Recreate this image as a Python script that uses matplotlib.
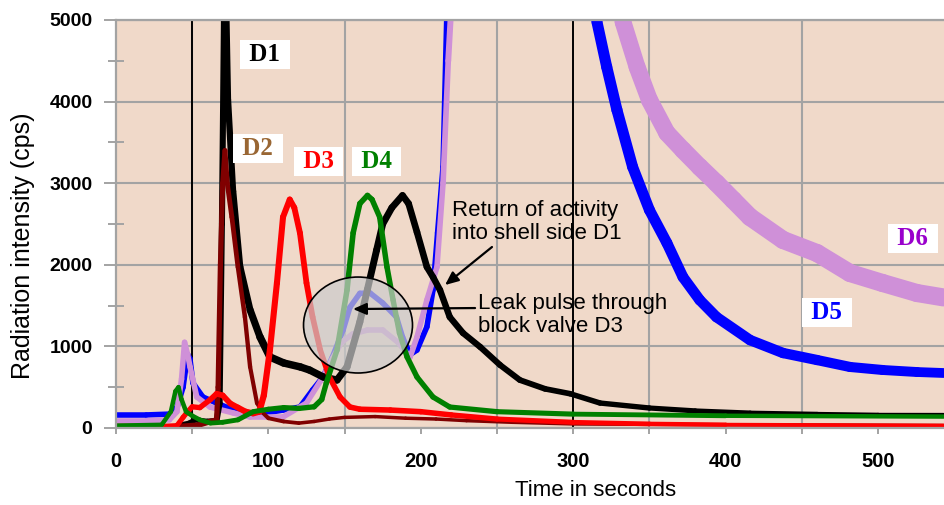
import numpy as np
import matplotlib
matplotlib.use('Agg')
import matplotlib.pyplot as plt
from matplotlib.collections import LineCollection
from matplotlib.patches import Ellipse
from matplotlib.ticker import MultipleLocator

plt.rcParams['font.family'] = ['Liberation Sans', 'DejaVu Sans']

# ---------------- data ----------------
series_names = ['D1', 'D2', 'D3', 'D4', 'D5', 'D6']

d1_t = [0, 40, 48, 52, 60, 66, 68, 69.5, 71, 72, 73.5, 76.8, 81.4, 88, 94.5, 101, 110, 121, 127,
        136, 145, 151.6, 160, 165, 171, 175, 181, 188, 192, 197.5, 204, 208, 212.6, 219, 227.7,
        239, 252, 265, 281.5, 298, 317.6, 350, 380, 416, 460, 500, 543]
d1_v = [30, 30, 60, 100, 80, 90, 300, 2500, 5300, 5500, 4020, 2900, 1973, 1446, 1115, 870, 797, 748, 710,
        625, 588, 748, 1300, 1700, 2181, 2500, 2700, 2850, 2750, 2400, 1973, 1850, 1690, 1360, 1164,
        993, 772, 588, 480, 420, 306, 245, 210, 184, 170, 160, 159]

d2_t = [0, 40, 55, 62, 66, 67, 68.5, 70, 71.5, 73, 76, 80, 84.6, 88, 92.5, 96.5, 100, 110, 120, 130,
        140, 150, 170, 190, 210, 230, 260, 300, 400, 543]
d2_v = [20, 20, 40, 80, 100, 500, 2000, 3000, 3400, 3000, 2586, 1973, 1360, 748, 306, 184, 120, 80, 60, 80,
        110, 130, 140, 120, 110, 90, 70, 50, 40, 30]

d3_t = [0, 30, 40, 44, 47, 50, 55, 62, 66, 70, 75, 80, 85, 90, 94, 97, 101, 105.6, 109.6, 114, 117,
        120.7, 125, 129, 134, 140, 147, 153.5, 160, 180, 200, 220, 250, 300, 350, 400, 543]
d3_v = [20, 20, 30, 130, 200, 260, 250, 350, 420, 400, 300, 250, 200, 180, 200, 400, 956, 1777, 2586, 2800, 2700,
        2390, 1777, 1360, 956, 625, 380, 257, 230, 220, 200, 160, 110, 70, 50, 40, 30]

d4_t = [0, 30, 36, 39, 41, 43, 46, 50, 55, 62, 70, 80, 90, 100, 110, 120, 130, 135, 138, 145, 151.6,
        155.6, 160, 165, 168, 173, 177.8, 181.8, 186, 191, 197.5, 208, 219, 250, 300, 400, 543]
d4_v = [30, 40, 200, 450, 500, 350, 200, 150, 100, 60, 70, 100, 200, 230, 250, 240, 260, 350, 551, 956, 1691,
        2390, 2750, 2850, 2800, 2586, 1973, 1569, 1164, 870, 625, 380, 257, 200, 170, 150, 140]

d5_t = [0, 20, 35, 40, 44, 47, 48.5, 50.5, 57, 66, 77, 88, 100, 109.6, 120.7, 129, 135.8, 142, 149,
        153.5, 160, 166.7, 175, 184, 188, 193, 197.5, 204, 208, 211, 214.6, 217, 222, 310,
        315.6, 322, 328.7, 339, 350, 361.5, 372, 383, 394, 416, 437.7, 460, 481.6, 503, 525.6, 543]
d5_v = [160, 160, 170, 250, 500, 900, 850, 551, 380, 306, 220, 184, 190, 220, 257, 466, 625, 870, 1200,
        1480, 1650, 1654, 1532, 1360, 1115, 900, 956, 1240, 1691, 2390, 3200, 5000, 7000, 7000,
        4975, 4424, 3897, 3199, 2672, 2267, 1850, 1569, 1360, 1078, 919, 833, 748, 711, 686, 674]

d6_t = [0, 20, 35, 40, 43, 45, 47, 48.6, 53, 61.7, 77, 88, 109.6, 125, 135.8, 142, 148, 155, 165, 175,
        185, 193, 197.5, 204, 210.6, 214.6, 218, 221, 226, 326,
        332.7, 341.9, 350, 361.5, 372, 383, 394, 405, 416, 437.7, 460, 481.6, 503, 525.6, 543]
d6_v = [90, 90, 100, 200, 600, 1050, 900, 748, 380, 257, 184, 135, 135, 306, 625, 850, 1050, 1150, 1200, 1200,
        1050, 870, 1115, 1569, 1973, 3002, 4500, 5500, 7000, 7000,
        4975, 4424, 4020, 3615, 3407, 3199, 3002, 2794, 2586, 2304, 2144, 1899, 1777, 1654, 1600]

x_ticks = [0, 100, 200, 300, 400, 500]
y_ticks = [0, 1000, 2000, 3000, 4000, 5000]
marker_lines = [50, 300]

# ---------------- styles ----------------
colors = {'D1': '#000000', 'D2': '#800000', 'D3': '#ff0000', 'D4': '#008000',
          'D5': '#0000ff', 'D6': '#cf90d8'}
label_colors = {'D1': '#000000', 'D2': '#996633', 'D3': '#ff0000', 'D4': '#008000',
                'D5': '#0000ff', 'D6': '#9900cc'}
# noise-band thickness (points) along time: (time breakpoints, widths)
band = {'D1': ([0, 60, 100, 300, 543], [2.5, 4, 5.5, 4, 3]),
        'D2': ([0, 60, 90, 130, 543], [2, 4, 3, 2.5, 2.5]),
        'D3': ([0, 95, 140, 200, 543], [3, 4.5, 4, 4, 2.5]),
        'D4': ([0, 150, 543], [3, 4, 3]),
        'D5': ([0, 215, 320, 543], [4, 4, 8, 7]),
        'D6': ([0, 215, 330, 400, 543], [4, 4, 12, 13, 13])}
zorders = {'D5': 2, 'D6': 2.1, 'D1': 2.2, 'D2': 2.3, 'D3': 2.4, 'D4': 2.5}
label_pos = {'D1': (97.8, 4580), 'D2': (93.2, 3430), 'D3': (132.9, 3270), 'D4': (170.9, 3270),
             'D5': (466.5, 1420), 'D6': (523, 2320)}

data = {'D1': (d1_t, d1_v), 'D2': (d2_t, d2_v), 'D3': (d3_t, d3_v),
        'D4': (d4_t, d4_v), 'D5': (d5_t, d5_v), 'D6': (d6_t, d6_v)}

fig = plt.figure(figsize=(9.44, 5.05), dpi=100)
ax = fig.add_axes([116 / 944, 77 / 505, 828 / 944, 408 / 505])
ax.set_facecolor('#f0d9c9')

for name in series_names:
    t, v = data[name]
    pts = np.column_stack([t, v])
    segs = np.stack([pts[:-1], pts[1:]], axis=1)
    mids = (np.asarray(t[:-1]) + np.asarray(t[1:])) / 2
    bt, bw = band[name]
    widths = np.interp(mids, bt, bw)
    lc = LineCollection(segs, linewidths=widths, colors=colors[name],
                        capstyle='round', joinstyle='round', zorder=zorders[name])
    ax.add_collection(lc)

ax.set_xlim(0, 543.3)
ax.set_ylim(0, 5000)

# grid
grid_c = '#a3a3a3'
ax.xaxis.set_major_locator(matplotlib.ticker.FixedLocator(x_ticks))
ax.xaxis.set_minor_locator(MultipleLocator(50))
ax.yaxis.set_major_locator(matplotlib.ticker.FixedLocator(y_ticks))
ax.yaxis.set_minor_locator(MultipleLocator(500))
ax.xaxis.grid(True, which='minor', color=grid_c, lw=1.5, zorder=1)
ax.yaxis.grid(True, which='major', color=grid_c, lw=1.5, zorder=1)
ax.set_axisbelow(True)
for xl in marker_lines:
    ax.axvline(xl, color='black', lw=1.4, zorder=1.5)

for s in ['left', 'bottom', 'top']:
    ax.spines[s].set_color(grid_c)
    ax.spines[s].set_linewidth(1.6)
ax.spines['right'].set_visible(False)

ax.tick_params(axis='y', which='major', direction='out', length=9, width=1.4,
               color=grid_c, pad=8, labelsize=14)
ax.tick_params(axis='y', which='minor', direction='inout', length=11, width=1.4, color=grid_c)
ax.tick_params(axis='x', which='both', direction='out', length=4, width=1.4,
               color=grid_c, pad=13, labelsize=14.5)
for lbl in ax.get_xticklabels() + ax.get_yticklabels():
    lbl.set_fontweight('bold')

ax.set_xlabel('Time in seconds', fontsize=16)
ax.xaxis.set_label_coords(0.5797, -0.128)
ax.set_ylabel('Radiation intensity (cps)', fontsize=18)
ax.yaxis.set_label_coords(-0.098, 0.446)

# ellipse highlighting leak pulse
ell = Ellipse((158.8, 1262), 71.5, 1176, facecolor=(0.8, 0.8, 0.8, 0.7),
              edgecolor='black', lw=1.2, zorder=5)
ax.add_patch(ell)

# series labels
for name in series_names:
    x, y = label_pos[name]
    ax.text(x, y, ' ' + name + ' ', fontsize=18, fontweight='bold',
            family=['Liberation Serif', 'DejaVu Serif'], color=label_colors[name],
            ha='center', va='center', zorder=6,
            bbox=dict(boxstyle='square,pad=0.12', fc='white', ec='none'))

# annotations
ax.text(220.5, 2800, 'Return of activity\ninto shell side D1', fontsize=16,
        ha='left', va='top', linespacing=1.15, zorder=7)
ax.annotate('', xy=(215.9, 1752), xytext=(246.7, 2218),
            arrowprops=dict(arrowstyle='-|>,head_length=0.8,head_width=0.35',
                            color='black', lw=1.6, shrinkA=0, shrinkB=0), zorder=7)
ax.text(237.5, 1660, 'Leak pulse through\nblock valve D3', fontsize=16,
        ha='left', va='top', linespacing=1.15, zorder=7)
ax.annotate('', xy=(155.5, 1458), xytext=(235.6, 1470),
            arrowprops=dict(arrowstyle='-|>,head_length=0.8,head_width=0.35',
                            color='black', lw=1.6, shrinkA=0, shrinkB=0), zorder=7)

fig.savefig('out.png', dpi=100, facecolor='white')
